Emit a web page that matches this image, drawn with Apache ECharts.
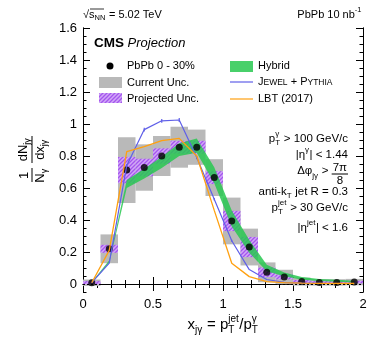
<!DOCTYPE html>
<html>
<head>
<meta charset="utf-8">
<script src="https://cdn.jsdelivr.net/npm/echarts@6/dist/echarts.min.js"></script>
<style>
html,body{margin:0;padding:0;background:#fff;}
#chart{width:374px;height:346px;}
</style>
</head>
<body>
<div id="chart"></div>
<script>
// bin centres of x_jγ (bin width 0.125)
var xCenters = [0.0625, 0.1875, 0.3125, 0.4375, 0.5625, 0.6875, 0.8125, 0.9375, 1.0625, 1.1875, 1.3125, 1.4375, 1.5625, 1.6875, 1.8125, 1.9375];
var binWidth = 0.125;
// PbPb 0-30% points
var dataVals = [0.008, 0.22, 0.712, 0.728, 0.80, 0.855, 0.855, 0.665, 0.394, 0.231, 0.073, 0.044, 0.015, 0.01, 0.01, 0.012];
var currentUnc = [0.02, 0.09, 0.205, 0.145, 0.125, 0.128, 0.11, 0.115, 0.146, 0.115, 0.062, 0.045, 0.025, 0.02, 0.02, 0.02];
var projUnc = [0.01, 0.025, 0.082, 0.055, 0.048, 0.04, 0.04, 0.04, 0.063, 0.063, 0.03, 0.015, 0.01, 0.008, 0.008, 0.008];
// models
var hybridMid = [0.008, 0.14, 0.625, 0.69, 0.76, 0.84, 0.865, 0.68, 0.41, 0.235, 0.1, 0.06, 0.035, 0.025, 0.02, 0.015];
var hybridHalf = [0.004, 0.008, 0.025, 0.03, 0.035, 0.04, 0.045, 0.05, 0.05, 0.04, 0.02, 0.012, 0.008, 0.006, 0.006, 0.006];
var jewel = [0.008, 0.13, 0.74, 0.965, 1.02, 1.025, 0.79, 0.53, 0.27, 0.09, 0.028, 0.01, 0.005, 0.004, 0.003, 0.003];
var jewelErr = [0, 0, 0.01, 0.012, 0.012, 0.012, 0.01, 0.008, 0.006, 0, 0, 0, 0, 0, 0, 0];
var lbt = [0.008, 0.21, 0.827, 0.858, 0.896, 0.91, 0.80, 0.46, 0.13, 0.046, 0.015, 0.008, 0.005, 0.004, 0.003, 0.003];
// axis ticks
var yTicks = [0, 0.2, 0.4, 0.6, 0.8, 1, 1.2, 1.4, 1.6];

var FONT = '"Liberation Sans", Arial, Helvetica, sans-serif';
var GRAY = '#b9b9b9';
var GREEN = 'rgba(40,200,80,0.85)';
var BLUE = '#5f5fe8';
var ORANGE = '#ffa010';

function fnt(size, st){ return (st ? st + ' ' : '') + size + 'px ' + FONT; }
var mctx = document.createElement('canvas').getContext('2d');
function tw(t, size, st){ mctx.font = fnt(size, st); return mctx.measureText(t).width; }

// purple hatch pattern
function hatch(){
	var c = document.createElement('canvas');
	c.width = 4; c.height = 4;
	var g = c.getContext('2d');
	g.fillStyle = '#d2a8f7';
	g.fillRect(0, 0, 4, 4);
	g.strokeStyle = '#a456ee';
	g.lineWidth = 1.3;
	g.beginPath();
	g.moveTo(-1, 5); g.lineTo(5, -1);
	g.moveTo(-3, 3); g.lineTo(3, -3);
	g.moveTo(1, 7); g.lineTo(7, 1);
	g.stroke();
	return {image: c, repeat: 'repeat'};
}
var HATCH = hatch();

function txt(t, x, y, f, st, align){
	return {type: 'text', x: x, y: y, z: 100, silent: true,
		style: {text: t, font: fnt(f, st), fill: '#000', align: align || 'left', verticalAlign: 'middle',
			textAlign: align || 'left', textVerticalAlign: 'middle'}};
}
function hline(x1, x2, y, color, w){
	return {type: 'line', z: 100, silent: true, shape: {x1: x1, y1: y, x2: x2, y2: y}, style: {stroke: color || '#000', lineWidth: w || 1}};
}
function segW(s){
	if (s.t != null) return tw(s.t, s.f, s.st);
	if (s.num != null) return Math.max(tw(s.num, s.f), tw(s.den, s.f)) + 2;
	return Math.max(s.sub ? tw(s.sub, s.f) : 0, s.sup ? tw(s.sup, s.f) : 0) + 0.5;
}
// lays out a line of text pieces with sub/superscripts
function row(segs, x, y, align){
	var ws = segs.map(segW);
	var total = ws.reduce(function(a, b){ return a + b; }, 0);
	var cx = align == 'right' ? x - total : (align == 'center' ? x - total / 2 : x);
	var out = [];
	segs.forEach(function(s, i){
		var w = ws[i];
		if (s.t != null) {
			out.push(txt(s.t, cx, y + (s.dy || 0), s.f, s.st));
		} else if (s.num != null) {
			out.push(txt(s.num, cx + w / 2, y - 6, s.f, null, 'center'));
			out.push(txt(s.den, cx + w / 2, y + 6.5, s.f, null, 'center'));
			out.push(hline(cx, cx + w, y));
		} else {
			if (s.sub) out.push(txt(s.sub, cx, y + (s.dsub != null ? s.dsub : s.f * 0.5), s.f));
			if (s.sup) out.push(txt(s.sup, cx, y - (s.dsup != null ? s.dsup : s.f * 0.6), s.f));
		}
		cx += w;
	});
	return out;
}

var g = [];
// header
g = g.concat(row([{t: '√', f: 11}, {t: 's', f: 11}, {sub: 'NN', f: 7.5}, {t: ' = 5.02 TeV', f: 11}], 83, 14.5));
g.push(hline(90, 104, 9, '#000', 0.8));
g = g.concat(row([{t: 'PbPb 10 nb', f: 11}, {sup: '-1', f: 7.5}], 362, 14.5, 'right'));
g = g.concat(row([{t: 'CMS', f: 13.5, st: 'bold'}, {t: ' Projection', f: 13, st: 'italic'}], 94, 43));
// left legend
g.push({type: 'circle', z: 100, shape: {cx: 110, cy: 66, r: 3.5}, style: {fill: '#000'}});
g.push(txt('PbPb 0 - 30%', 127, 66, 11));
g.push({type: 'rect', z: 100, shape: {x: 99, y: 77, width: 23, height: 11}, style: {fill: GRAY}});
g.push(txt('Current Unc.', 127, 82.5, 11));
g.push({type: 'rect', z: 100, shape: {x: 99, y: 93, width: 23, height: 10}, style: {fill: HATCH}});
g.push(txt('Projected Unc.', 127, 98.5, 11));
// right legend
g.push({type: 'rect', z: 100, shape: {x: 230, y: 61, width: 23, height: 11}, style: {fill: GREEN}});
g.push(txt('Hybrid', 258, 66, 11));
g.push(hline(230, 253, 82, BLUE, 1.2));
g = g.concat(row([{t: 'J', f: 11}, {t: 'EWEL', f: 8.5, dy: 0.8}, {t: ' + ', f: 11}, {t: 'P', f: 11}, {t: 'YTHIA', f: 8.5, dy: 0.8}], 258, 82));
g.push(hline(230, 253, 99, ORANGE, 1.2));
g.push(txt('LBT (2017)', 258, 98.5, 11));
// selection text
var F = 11.5, S = 8;
g = g.concat(row([{t: 'p', f: F}, {sub: 'T', sup: 'γ', f: S}, {t: ' > 100 GeV/c', f: F}], 348, 139, 'right'));
g = g.concat(row([{t: '|', f: F}, {t: 'η', f: F}, {sup: 'γ', f: S}, {t: '| < 1.44', f: F}], 348, 155, 'right'));
g = g.concat(row([{t: 'Δφ', f: F, dy: -3}, {sub: 'jγ', f: S, dsub: 1.5}, {t: ' > ', f: F, dy: -3}, {num: '7π', den: '8', f: F}], 348, 174, 'right'));
g = g.concat(row([{t: 'anti-k', f: F}, {sub: 'T', f: S}, {t: ' jet R = 0.3', f: F}], 348, 191.5, 'right'));
g = g.concat(row([{t: 'p', f: F}, {sub: 'T', sup: 'jet', f: S}, {t: ' > 30 GeV/c', f: F}], 348, 207.5, 'right'));
g = g.concat(row([{t: '|', f: F}, {t: 'η', f: F}, {sup: 'jet', f: S}, {t: '| < 1.6', f: F}], 348, 227.5, 'right'));
// x axis title
g = g.concat(row([{t: 'x', f: 15}, {sub: 'jγ', f: 10}, {t: ' = p', f: 15}, {sub: 'T', sup: 'jet', f: 10}, {t: '/p', f: 15}, {sub: 'T', sup: 'γ', f: 10}], 223, 325, 'center'));
// y axis title (rotated)
var yt = [];
yt = yt.concat(row([{t: '1', f: 13}], -15.5, -8, 'center'));
yt = yt.concat(row([{t: 'N', f: 13}, {sub: 'γ', f: 9}], -15.5, 8, 'center'));
yt.push(hline(-22, -8, 0));
yt = yt.concat(row([{t: 'dN', f: 13}, {sub: 'jγ', f: 9}], 10.5, -9, 'center'));
yt = yt.concat(row([{t: 'dx', f: 13}, {sub: 'jγ', f: 9}], 10.5, 8, 'center'));
yt.push(hline(-3, 24, 0));
g.push({type: 'group', x: 32, y: 160, rotation: Math.PI / 2, children: yt});

function boxSeries(unc, fill){
	return {
		type: 'custom', silent: true,
		data: xCenters.map(function(x, i){ return [x, dataVals[i], unc[i]]; }),
		renderItem: function(params, api){
			var x = api.value(0), y = api.value(1), e = api.value(2);
			var p1 = api.coord([x - binWidth / 2, y + e]);
			var p2 = api.coord([x + binWidth / 2, y - e]);
			return {type: 'rect', shape: {x: p1[0], y: p1[1], width: p2[0] - p1[0], height: p2[1] - p1[1]}, style: {fill: fill}};
		}
	};
}

var tickX = {show: true, inside: true, length: 7, lineStyle: {color: '#000'}};
var minorX = {show: true, splitNumber: 5, length: 4, lineStyle: {color: '#000'}};
var lineSt = {show: true, lineStyle: {color: '#000', width: 1}};

function yAxisDef(pos, major, labels){
	var a = {
		type: 'value', position: pos, min: -0.05, max: 1.6, splitLine: {show: false},
		axisLine: lineSt
	};
	if (major) {
		a.axisTick = {show: true, inside: true, length: 7, customValues: yTicks, lineStyle: {color: '#000'}};
		a.axisLabel = labels ? {show: true, customValues: yTicks, margin: 6, color: '#000', fontSize: 13, fontFamily: FONT} : {show: false};
	} else {
		a.interval = 0.05;
		a.axisTick = {show: true, inside: true, length: 3.5, lineStyle: {color: '#000'}};
		a.axisLabel = {show: false};
	}
	return a;
}

var myChart = echarts.init(document.getElementById('chart'), null, {renderer: 'canvas'});
var option = {
	animation: false,
	backgroundColor: '#fff',
	grid: {left: 83, right: 11, top: 28, bottom: 54},
	xAxis: [
		{type: 'value', position: 'bottom', min: 0, max: 2, interval: 0.5, axisLine: lineSt, axisTick: tickX, minorTick: minorX,
			splitLine: {show: false}, axisLabel: {margin: 6, color: '#000', fontSize: 13, fontFamily: FONT}},
		{type: 'value', position: 'top', min: 0, max: 2, interval: 0.5, axisLine: lineSt, axisTick: tickX, minorTick: minorX,
			splitLine: {show: false}, axisLabel: {show: false}}
	],
	yAxis: [yAxisDef('left', false), yAxisDef('left', true, true), yAxisDef('right', false), yAxisDef('right', true, false)],
	series: [
		boxSeries(currentUnc, GRAY),
		boxSeries(projUnc, HATCH),
		{
			type: 'scatter', symbol: 'circle', symbolSize: 7, itemStyle: {color: '#000'}, silent: true,
			data: xCenters.map(function(x, i){ return [x, dataVals[i]]; }),
			markLine: {symbol: 'none', silent: true, label: {show: false}, lineStyle: {color: '#000', type: [2, 2], width: 1}, data: [{yAxis: 0}]}
		},
		{
			type: 'custom', silent: true, data: [[0]],
			renderItem: function(params, api){
				var up = [], lo = [];
				for (var i = 0; i < xCenters.length; i++) {
					up.push(api.coord([xCenters[i], hybridMid[i] + hybridHalf[i]]));
					lo.unshift(api.coord([xCenters[i], hybridMid[i] - hybridHalf[i]]));
				}
				return {type: 'polygon', shape: {points: up.concat(lo)}, style: {fill: GREEN}};
			}
		},
		{
			type: 'line', symbol: 'none', silent: true, lineStyle: {color: BLUE, width: 1.2},
			data: xCenters.map(function(x, i){ return [x, jewel[i]]; })
		},
		{
			type: 'custom', silent: true,
			data: xCenters.map(function(x, i){ return [x, jewel[i], jewelErr[i]]; }),
			renderItem: function(params, api){
				var x = api.value(0), y = api.value(1), e = api.value(2);
				if (!e) return null;
				var p1 = api.coord([x, y + e]), p2 = api.coord([x, y - e]);
				return {type: 'line', shape: {x1: p1[0], y1: p1[1], x2: p2[0], y2: p2[1]}, style: {stroke: BLUE, lineWidth: 1.2}};
			}
		},
		{
			type: 'line', symbol: 'none', silent: true, lineStyle: {color: ORANGE, width: 1.3},
			data: xCenters.map(function(x, i){ return [x, lbt[i]]; })
		}
	],
	graphic: {elements: g}
};
myChart.setOption(option);
</script>
</body>
</html>
